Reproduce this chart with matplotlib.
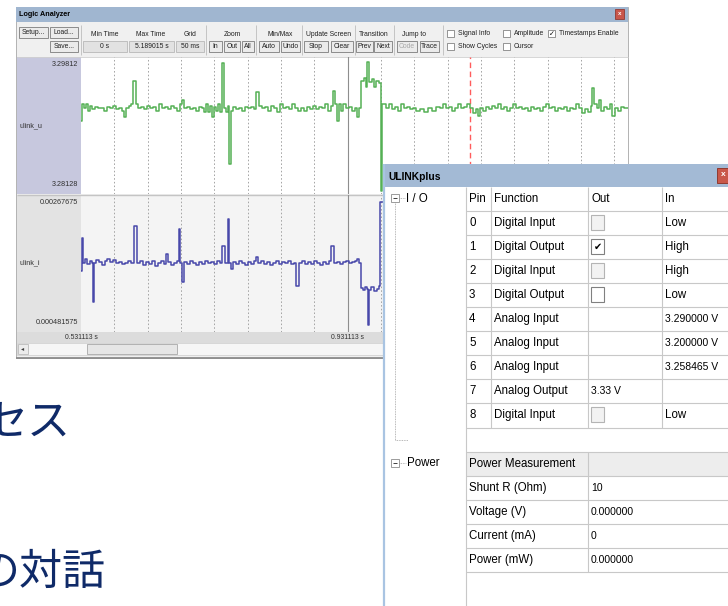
import matplotlib
matplotlib.use('Agg')
import matplotlib.pyplot as plt
from matplotlib.patches import Rectangle
import matplotlib.transforms as mtransforms

# ---------------- data ----------------
t0_label = '0.531113 s'
t_mark_label = '0.931113 s'
grid_step_ms = 50
window_ms = 820.5
solid_line_ms = 400
cursor_ms = 583.5

u_range = (3.28128, 3.29812)
i_range_mA = (0.481575, 2.67675)
u_labels = ('3.29812', '3.28128')
i_labels = ('0.00267675', '0.000481575')
signal_names = ('ulink_u', 'ulink_i')

# ulink_u trace: time since window start (ms), voltage (V)
t_u_ms = [0, 1.5, 4.5, 7.5, 10.5, 13.5, 16.5, 21, 25.5, 30,
          34.5, 39, 43.5, 48, 52.5, 57, 61.5, 64.5, 67.5, 72,
          75, 78, 82.5, 85.5, 90, 94.5, 99, 103.5, 108, 112.5,
          117, 121.5, 126, 130.5, 135, 139.5, 144, 148.5, 151.5, 154.5,
          159, 163.5, 168, 172.5, 177, 181.5, 184.5, 187.5, 190.5, 193.5,
          196.5, 199.5, 202.5, 205.5, 208.5, 211.5, 214.5, 217.5, 220.5, 222,
          225, 228, 232.5, 237, 241.5, 246, 250.5, 255, 259.5, 262.5,
          267, 271.5, 276, 280.5, 285, 289.5, 294, 298.5, 303, 307.5,
          312, 316.5, 321, 325.5, 330, 334.5, 339, 343.5, 348, 352.5,
          357, 361.5, 366, 370.5, 375, 378, 381, 384, 387, 390,
          393, 397.5, 402, 406.5, 411, 414, 417, 420, 424.5, 427.5,
          429, 432, 436.5, 439.5, 442.5, 447, 450, 452,
          457.5, 462, 466.5, 471, 475.5, 480, 484.5, 489, 493.5, 498,
          502.5, 508.5, 514.5, 520.5, 526.5, 532.5, 538.5, 543, 547.5, 552,
          556.5, 561, 565.5, 570, 574.5, 579, 583.5, 588, 592.5, 595.5,
          598.5, 603, 607.5, 612, 616.5, 621, 625.5, 630, 634.5, 639,
          643.5, 648, 652.5, 657, 661.5, 666, 670.5, 675, 679.5, 684,
          688.5, 693, 697.5, 702, 706.5, 711, 715.5, 720, 724.5, 729,
          733.5, 738, 742.5, 747, 751.5, 756, 760.5, 765, 766.5, 769.5,
          774, 777, 780, 784.5, 789, 793.5, 796.5, 801, 805.5, 810, 814.5, 820.5]
u_V = [3.2902, 3.2924, 3.2918, 3.2923, 3.2915, 3.2921, 3.2917, 3.2920, 3.2918, 3.2919,
       3.2915, 3.2920, 3.2918, 3.2921, 3.2917, 3.2919, 3.2915, 3.2908, 3.2918, 3.2921,
       3.2924, 3.2952, 3.2923, 3.2918, 3.2920, 3.2917, 3.2921, 3.2918, 3.2920, 3.2915,
       3.2923, 3.2918, 3.2920, 3.2917, 3.2921, 3.2918, 3.2915, 3.2923, 3.2928, 3.2918,
       3.2920, 3.2917, 3.2919, 3.2915, 3.2920, 3.2918, 3.2913, 3.2923, 3.2913, 3.2921,
       3.2908, 3.2920, 3.2915, 3.2923, 3.2913, 3.2974, 3.2918, 3.2913, 3.2921, 3.2850,
       3.2915, 3.2920, 3.2917, 3.2919, 3.2915, 3.2920, 3.2918, 3.2920, 3.2917, 3.2938,
       3.2921, 3.2918, 3.2920, 3.2915, 3.2921, 3.2918, 3.2914, 3.2923, 3.2918, 3.2920,
       3.2917, 3.2924, 3.2919, 3.2915, 3.2918, 3.2915, 3.2920, 3.2917, 3.2921, 3.2917,
       3.2920, 3.2918, 3.2923, 3.2915, 3.2921, 3.2939, 3.2923, 3.2902, 3.2924, 3.2915,
       3.2923, 3.2918, 3.2920, 3.2915, 3.2919, 3.2907, 3.2918, 3.2952, 3.2955, 3.2944,
       3.2975, 3.2950, 3.2954, 3.2944, 3.2952, 3.2949, 3.2816, 3.2924,
       3.2918, 3.2923, 3.2917, 3.2920, 3.2915, 3.2923, 3.2918, 3.2920, 3.2917, 3.2919,
       3.2915, 3.2917, 3.2914, 3.2918, 3.2915, 3.2920, 3.2918, 3.2923, 3.2918, 3.2920,
       3.2915, 3.2919, 3.2923, 3.2918, 3.2920, 3.2923, 3.2918, 3.2912, 3.2917, 3.2909,
       3.2918, 3.2915, 3.2920, 3.2917, 3.2921, 3.2918, 3.2924, 3.2917, 3.2920, 3.2915,
       3.2919, 3.2923, 3.2918, 3.2920, 3.2917, 3.2919, 3.2915, 3.2920, 3.2917, 3.2919,
       3.2915, 3.2920, 3.2924, 3.2918, 3.2920, 3.2915, 3.2919, 3.2917, 3.2920, 3.2915,
       3.2919, 3.2917, 3.2923, 3.2918, 3.2912, 3.2917, 3.2913, 3.2921, 3.2943, 3.2923,
       3.2918, 3.2928, 3.2915, 3.2920, 3.2917, 3.2924, 3.2909, 3.2918, 3.2915, 3.2920, 3.2918, 3.2919]

# ulink_i trace: time since window start (ms), current (mA)
t_i_ms = [0, 1.5, 3, 6, 9, 13.5, 16.5, 18, 19.5, 22.5,
          27, 31.5, 36, 39, 43.5, 48, 52.5, 57, 61.5, 66,
          70.5, 75, 79.5, 84, 88.5, 93, 97.5, 102, 106.5, 111,
          115.5, 120, 124.5, 127.5, 130.5, 135, 139.5, 144, 147, 148.5,
          151.5, 154.5, 159, 163.5, 168, 172.5, 177, 181.5, 186, 190.5,
          195, 199.5, 204, 208.5, 211.5, 216, 220.5, 222, 225, 228,
          232.5, 237, 241.5, 246, 250.5, 255, 259.5, 262.5, 265.5, 270,
          274.5, 279, 283.5, 288, 292.5, 297, 301.5, 306, 310.5, 315,
          319.5, 322.5, 327, 331.5, 336, 340.5, 345, 349.5, 354, 358.5,
          363, 367.5, 372, 375, 379.5, 384, 388.5, 393, 397.5, 402,
          406.5, 411, 414, 417, 420, 423, 426, 429, 430.5, 432,
          435, 439.5, 444, 447, 448.5, 453]
i_mA = [1.4607, 1.9818, 1.5870, 1.6502, 1.5712, 1.6186, 1.5870, 0.9553, 1.5870, 1.6344,
        1.6028, 1.5554, 1.6186, 1.6502, 1.6028, 1.6344, 1.5870, 1.6028, 1.5712, 1.5870,
        1.6186, 1.5870, 2.1871, 1.5870, 1.6186, 1.5554, 1.6028, 1.5712, 1.6186, 1.5396,
        1.5870, 1.6186, 1.5712, 1.7291, 1.6028, 1.5554, 1.5870, 1.6186, 2.1398, 1.5870,
        1.2869, 1.6028, 1.5712, 1.6186, 1.5870, 1.5554, 1.6028, 1.5712, 1.6186, 1.5870,
        1.6028, 1.5712, 1.6186, 1.5870, 1.8555, 1.5870, 2.2977, 1.5870, 1.4922, 1.6028,
        1.5712, 1.6186, 1.5870, 1.5554, 1.6028, 1.5712, 1.6186, 1.6818, 1.5870, 1.6186,
        1.5712, 1.6028, 1.5554, 1.5870, 1.6186, 1.5712, 1.6028, 1.5870, 1.6186, 1.5712,
        1.5870, 1.2238, 1.5870, 1.6186, 1.5712, 1.6028, 1.5712, 1.6186, 1.5870, 1.5554,
        1.6028, 1.5712, 1.6186, 1.8555, 1.5870, 1.6028, 1.5712, 1.6028, 1.6186, 1.5870,
        1.6028, 1.6186, 1.6502, 1.5870, 1.1922, 1.1606, 1.2080, 1.1764, 0.5920, 1.1606,
        1.2080, 1.1448, 1.1764, 1.2238, 2.5662, 2.5662]

# ULINKplus table
pins = ['0', '1', '2', '3', '4', '5', '6', '7', '8']
functions = ['Digital Input', 'Digital Output', 'Digital Input', 'Digital Output',
             'Analog Input', 'Analog Input', 'Analog Input', 'Analog Output', 'Digital Input']
out_checked = [False, True, False, False, None, None, None, None, False]
out_text = ['', '', '', '', '', '', '', '3.33 V', '']
in_values = ['Low', 'High', 'High', 'Low', '3.290000 V', '3.200000 V', '3.258465 V', '', 'Low']
power_labels = ['Shunt R (Ohm)', 'Voltage (V)', 'Current (mA)', 'Power (mW)']
power_values = ['10', '0.000000', '0', '0.000000']

jp_line1 = 'セス'
jp_line2 = 'の対話'

# ---------------- drawing ----------------
W, H = 728, 606
UI = ['Liberation Sans', 'DejaVu Sans']
JP = ['Noto Sans CJK JP', 'DejaVu Sans']
fig = plt.figure(figsize=(W / 100, H / 100), dpi=100)
fig.patch.set_facecolor('white')


def px_axes(x0, y0, x1, y1, z):
    a = fig.add_axes([x0 / W, 1 - y1 / H, (x1 - x0) / W, (y1 - y0) / H], zorder=z)
    a.set_axis_off()
    return a


def canvas(z):
    a = px_axes(0, 0, W, H, z)
    a.set_xlim(0, W)
    a.set_ylim(H, 0)
    return a


def box(ax, x0, y0, x1, y1, fc, ec='none', lw=0.7, z=1):
    ax.add_patch(Rectangle((x0, y0), x1 - x0, y1 - y0, facecolor=fc,
                           edgecolor=ec, linewidth=lw, zorder=z))


def seg(ax, xs, ys, color, lw=0.7, ls='-', z=2):
    ax.plot(xs, ys, color=color, lw=lw, ls=ls, zorder=z, solid_capstyle='butt')


def label(ax, x, y, s, size, ha='left', va='center', color='black',
          weight='normal', family=UI, z=5):
    ax.text(x, y, s, fontsize=size, ha=ha, va=va, color=color,
            fontweight=weight, family=family, zorder=z)


def is_number(s):
    return s[:1].isdigit()


bg = canvas(0)

# ---- Logic Analyzer window ----
box(bg, 16, 7, 628, 358, '#f0f0f0', ec='#a8a8a8', lw=0.6)
box(bg, 16, 7, 628, 22, '#a0b6d0')
label(bg, 19, 15, 'Logic Analyzer', 5.2, weight='bold')
box(bg, 615, 9, 624, 19, '#c8564b', ec='#8a2a20', lw=0.5, z=3)
label(bg, 619.5, 13.8, 'x', 4.5, ha='center', color='white', weight='bold')

tb_buttons = [('Setup...', 19, 27, 48, 38), ('Load...', 50, 27, 78, 38), ('Save...', 50, 41, 78, 52),
              ('In', 209, 41, 222, 52), ('Out', 224, 41, 240, 52), ('All', 242, 41, 254, 52),
              ('Auto', 259, 41, 279, 52), ('Undo', 281, 41, 300, 52),
              ('Stop', 304, 41, 328, 52), ('Clear', 331, 41, 353, 52),
              ('Prev', 356, 41, 373, 52), ('Next', 374, 41, 392, 52),
              ('Code', 397, 41, 417, 52), ('Trace', 420, 41, 439, 52)]
for s, x0, y0, x1, y1 in tb_buttons:
    box(bg, x0, y0, x1, y1, '#ebebeb', ec='#7c7c7c', lw=0.6, z=2)
    label(bg, (x0 + x1) / 2, (y0 + y1) / 2, s, 4.9, ha='center',
          color='#a8a8a8' if s == 'Code' else '#202020')

for s, x0, x1 in [('0 s', 83, 127), ('5.189015 s', 129, 174), ('50 ms', 176, 204)]:
    box(bg, x0, 41, x1, 52, '#e2e2e2', ec='#b8b8b8', lw=0.6, z=2)
    label(bg, (x0 + x1) / 2, 46.5, s, 4.9, ha='center', color='#202020')

for s, xc in [('Min Time', 105), ('Max Time', 151), ('Grid', 190), ('Zoom', 232),
              ('Min/Max', 280), ('Update Screen', 328), ('Transition', 374), ('Jump to', 414)]:
    label(bg, xc, 34.5, s, 4.9, ha='center', color='#202020')

for xs in [81, 206, 256, 302, 355, 394, 443]:
    seg(bg, [xs, xs], [25, 55], '#c4c4c4', lw=0.7)

for s, x, y, chk in [('Signal Info', 447, 30, False), ('Amplitude', 503, 30, False),
                     ('Timestamps Enable', 548, 30, True), ('Show Cycles', 447, 43, False),
                     ('Cursor', 503, 43, False)]:
    box(bg, x, y, x + 7, y + 7, 'white', ec='#6c6c6c', lw=0.5, z=2)
    if chk:
        label(bg, x + 3.5, y + 3.6, '✓', 5, ha='center', family=['DejaVu Sans'], weight='bold')
    label(bg, x + 11, y + 3.6, s, 4.9, color='#202020')

# label panels and plot backgrounds
box(bg, 17, 57, 81, 194, '#c7c8de')
box(bg, 17, 195, 81, 332, '#e3e3e3')
box(bg, 81, 57, 628, 194, 'white')
box(bg, 81, 195, 628, 332, '#f4f4f4')
seg(bg, [17, 628], [194.5, 194.5], '#c4c4c4', lw=1)
seg(bg, [17, 628], [56.5, 56.5], '#d0d0d0', lw=0.6)

label(bg, 78, 65, u_labels[0], 5.2, ha='right', color='#303030')
label(bg, 78, 185, u_labels[1], 5.2, ha='right', color='#303030')
label(bg, 20, 126, signal_names[0], 5.2, color='#303030')
label(bg, 78, 203, i_labels[0], 5.2, ha='right', color='#303030')
label(bg, 78, 322, i_labels[1], 5.2, ha='right', color='#303030')
label(bg, 20, 263, signal_names[1], 5.2, color='#303030')

# time row and scrollbar
box(bg, 17, 332, 628, 343, '#dcdcdc')
box(bg, 17, 343, 628, 355, '#f6f6f6', ec='#cccccc', lw=0.5)
box(bg, 18, 344, 28, 354, '#ececec', ec='#b0b0b0', lw=0.5, z=2)
label(bg, 23, 349, '◂', 4.5, ha='center', family=['DejaVu Sans'], color='#404040')
box(bg, 87, 344, 177, 354, '#e6e6e6', ec='#a8a8a8', lw=0.6, z=2)
seg(bg, [16, 628], [357.5, 357.5], '#8c8c8c', lw=1.3)

# waveform axes
ax_u = px_axes(81, 57, 628, 194, 1)
ax_u.set_xlim(0, window_ms)
ax_u.set_ylim(*u_range)
ax_i = px_axes(81, 195, 628, 332, 1)
ax_i.set_xlim(0, window_ms)
ax_i.set_ylim(*i_range_mA)

for a in (ax_u, ax_i):
    for g in range(grid_step_ms, int(window_ms) + 1, grid_step_ms):
        if g == solid_line_ms:
            a.axvline(g, color='#8e8e8e', lw=0.8, zorder=1)
        else:
            a.axvline(g, color='#a4a4a4', lw=0.7, ls=(0, (1.6, 2.2)), zorder=1)
    a.axvline(cursor_ms, color='#ff5c5c', lw=1.0, ls=(0, (4, 2.5)), zorder=1)

n_u = min(len(t_u_ms), len(u_V))
ax_u.step(t_u_ms[:n_u], u_V[:n_u], where='post', color='#55b055', lw=1.1, zorder=3)
n_i = min(len(t_i_ms), len(i_mA))
ax_i.step(t_i_ms[:n_i], i_mA[:n_i], where='post', color='#4848aa', lw=1.1, zorder=3)

trans = mtransforms.blended_transform_factory(ax_i.transData, bg.transData)
bg.text(0, 337.5, t0_label, transform=trans, fontsize=4.9, ha='center', va='center',
        family=UI, color='#303030', zorder=5)
bg.text(solid_line_ms, 337.5, t_mark_label, transform=trans, fontsize=4.9, ha='center',
        va='center', family=UI, color='#303030', zorder=5)

# Japanese slide text (partly outside the left edge, as in the source slide)
label(bg, -16, 423, jp_line1, 31, family=JP, color='#0f2a68')
label(bg, -24, 573, jp_line2, 31, family=JP, color='#0f2a68')

# ---- ULINKplus window (overlay) ----
ov = canvas(3)
box(ov, 383, 164, 740, 615, 'white')
box(ov, 383, 164, 740, 187, '#a3bad5')
seg(ov, [384, 384], [164, 615], '#a9c4e2', lw=1.6, z=3)
label(ov, 388, 176.5, 'ULINKplus', 7.4, weight='bold')
box(ov, 717, 168, 733, 183, '#c9584a', ec='#8a2e22', lw=0.6, z=3)
label(ov, 723.5, 175, 'x', 6, ha='center', color='white', weight='bold')

cols = [466, 490.5, 587.5, 662]
top = 187
rh = 24.05
grid_c = '#c8c8c8'
box(ov, 466, top + 11 * rh, 740, top + 12 * rh, '#ededed', z=1)
for k in range(1, 17):
    seg(ov, [466, 740], [top + k * rh] * 2, grid_c, lw=0.8)
seg(ov, [466, 466], [top, 615], grid_c, lw=0.8)
for c in cols[1:]:
    seg(ov, [c, c], [top, top + 10 * rh], grid_c, lw=0.8)
seg(ov, [cols[2], cols[2]], [top + 11 * rh, top + 16 * rh], grid_c, lw=0.8)

fs = 8.3
fs_num = 7.5
yc = top + rh / 2
label(ov, 469, yc, 'Pin', fs)
label(ov, 494, yc, 'Function', fs)
label(ov, 591, yc, 'Out', fs)
label(ov, 665, yc, 'In', fs)

for r in range(len(pins)):
    y0 = top + (r + 1) * rh
    ym = y0 + rh / 2
    label(ov, 469, ym, pins[r], fs)
    label(ov, 494, ym, functions[r], fs)
    if out_checked[r] is not None:
        disabled = 'Input' in functions[r]
        box(ov, 591, y0 + 4, 604, y0 + 19, '#f2f2f2' if disabled else 'white',
            ec='#b4b4b4' if disabled else '#808080', lw=0.8, z=3)
        if out_checked[r]:
            label(ov, 597.5, y0 + 11.5, '✔', 7, ha='center', family=['DejaVu Sans'])
    if out_text[r]:
        label(ov, 591, ym, out_text[r], fs_num)
    label(ov, 665, ym, in_values[r], fs_num if is_number(in_values[r]) else fs)

label(ov, 469, top + 11.5 * rh, 'Power Measurement', fs)
for j in range(len(power_labels)):
    ym = top + (12.5 + j) * rh
    label(ov, 469, ym, power_labels[j], fs)
    label(ov, 591, ym, power_values[j], fs_num)

# tree
tree_c = '#a0a0a0'
box(ov, 391, 194, 399, 202, 'white', ec='#8c8c8c', lw=0.6, z=3)
seg(ov, [393, 397], [198, 198], '#404040', lw=0.7, z=4)
seg(ov, [399, 405], [198, 198], tree_c, lw=0.6, ls=(0, (1, 1)))
label(ov, 406, 198.5, 'I / O', fs)
seg(ov, [395, 395], [202, 440], tree_c, lw=0.6, ls=(0, (1, 1)))
seg(ov, [395, 408], [440, 440], tree_c, lw=0.6, ls=(0, (1, 1)))
box(ov, 391, 459, 399, 467, 'white', ec='#8c8c8c', lw=0.6, z=3)
seg(ov, [393, 397], [463, 463], '#404040', lw=0.7, z=4)
seg(ov, [399, 406], [463, 463], tree_c, lw=0.6, ls=(0, (1, 1)))
label(ov, 407, 463.5, 'Power', fs)

fig.savefig('out.png', dpi=100, facecolor='white')
